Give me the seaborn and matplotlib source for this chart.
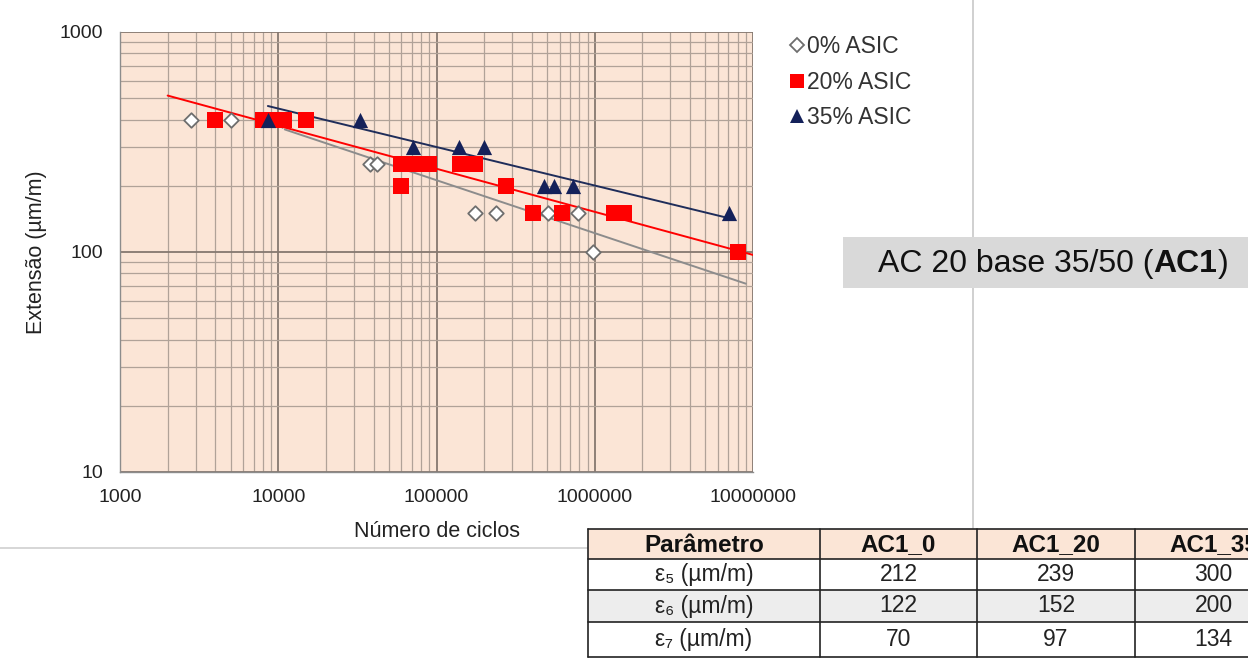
import numpy as np
import pandas as pd
import matplotlib
matplotlib.use("Agg")
import matplotlib.pyplot as plt
from matplotlib.patches import Rectangle
from matplotlib.lines import Line2D
from matplotlib.ticker import FixedLocator, LogLocator, NullFormatter, FixedFormatter
import seaborn as sns

# ---------------- data ----------------
s0_N = [2800, 5000, 10500, 38000, 42000, 176000, 236000, 510000, 780000, 970000]
s0_E = [400, 400, 400, 250, 250, 150, 150, 150, 150, 100]
s20_N = [4000, 8000, 9500, 10800, 15000, 60000, 60000, 75000, 90000, 140000,
         175000, 275000, 410000, 625000, 1320000, 1520000, 8000000]
s20_E = [400, 400, 400, 400, 400, 200, 250, 250, 250, 250,
         250, 200, 150, 150, 150, 150, 100]
s35_N = [8600, 33000, 71000, 138000, 200000, 475000, 550000, 726000, 7050000]
s35_E = [400, 400, 300, 300, 300, 200, 200, 200, 150]

series_labels = ["0% ASIC", "20% ASIC", "35% ASIC"]

# fatigue-law parameters (strain at 1e5, 1e6, 1e7 cycles) from the table
table_cols = ["Parâmetro", "AC1_0", "AC1_20", "AC1_35"]
table_params = ["ε₅ (µm/m)", "ε₆ (µm/m)", "ε₇ (µm/m)"]
eps5 = [212, 239, 300]
eps6 = [122, 152, 200]
eps7 = [70, 97, 134]

# trend-line ranges (cycles)
trend_start = [11000, 2000, 8600]
trend_end = [9000000, 10000000, 7050000]

x_ticks = [1000, 10000, 100000, 1000000, 10000000]
x_ticklabels = ["1000", "10000", "100000", "1000000", "10000000"]
y_ticks = [10, 100, 1000]
y_ticklabels = ["10", "100", "1000"]

# ---------------- style ----------------
sns.set_theme(style="white")
plt.rcParams["font.family"] = ["Liberation Sans", "DejaVu Sans"]

W, H = 1248, 659
fig = plt.figure(figsize=(W / 100, H / 100), dpi=100)
fig.patch.set_facecolor("white")

# background decoration axes (pixel coords)
bg = fig.add_axes([0, 0, 1, 1], zorder=0)
bg.set_xlim(0, W)
bg.set_ylim(H, 0)
bg.axis("off")
bg.add_line(Line2D([0, 590], [548, 548], color="#D0D0D0", lw=1.2))
bg.add_line(Line2D([973, 973], [0, 528], color="#C8C8C8", lw=1.2))

def px_axes(x0, y0, x1, y1):
    return [x0 / W, 1 - y1 / H, (x1 - x0) / W, (y1 - y0) / H]

ax = fig.add_axes(px_axes(120, 32, 753, 472), zorder=2)
ax.set_facecolor("#FBE5D6")
ax.set_xscale("log")
ax.set_yscale("log")
ax.set_xlim(1000, 10000000)
ax.set_ylim(10, 1000)

# grid
ax.xaxis.set_major_locator(FixedLocator(x_ticks))
ax.yaxis.set_major_locator(FixedLocator(y_ticks))
ax.xaxis.set_major_formatter(FixedFormatter(x_ticklabels))
ax.yaxis.set_major_formatter(FixedFormatter(y_ticklabels))
ax.xaxis.set_minor_locator(LogLocator(base=10, subs=np.arange(2, 10)))
ax.yaxis.set_minor_locator(LogLocator(base=10, subs=np.arange(2, 10)))
ax.xaxis.set_minor_formatter(NullFormatter())
ax.yaxis.set_minor_formatter(NullFormatter())
ax.grid(which="major", color="#857870", lw=1.3)
ax.grid(which="minor", color="#B0A298", lw=0.9)
ax.set_axisbelow(True)
for s in ["top", "right"]:
    ax.spines[s].set_visible(False)
for s in ["left", "bottom"]:
    ax.spines[s].set_color("#8C8C8C")
    ax.spines[s].set_linewidth(1.0)
ax.tick_params(which="major", length=6, width=1, color="#8C8C8C",
               labelsize=14, labelcolor="#222222", pad=6)
ax.tick_params(axis="x", which="major", length=0, pad=12)
ax.tick_params(which="minor", length=0)

# trend lines
colors = ["#8C8C8C", "#FF0000", "#1F2D5A"]
for i in range(3):
    n = np.logspace(np.log10(trend_start[i]), np.log10(trend_end[i]), 50)
    b = (np.log10(eps7[i]) - np.log10(eps5[i])) / 2.0
    e = 10 ** (np.log10(eps5[i]) + b * (np.log10(n) - 5))
    sns.lineplot(x=n, y=e, ax=ax, color=colors[i], lw=1.4, zorder=3,
                 legend=False, estimator=None)

# points
sns.scatterplot(x=s0_N, y=s0_E, ax=ax, marker="D", s=55, facecolor="white",
                edgecolor="#6E6E6E", linewidth=1.3, zorder=4, legend=False)
sns.scatterplot(x=s20_N, y=s20_E, ax=ax, marker="s", s=140, color="#FF0000",
                edgecolor="#FF0000", linewidth=0, zorder=5, legend=False)
sns.scatterplot(x=s35_N, y=s35_E, ax=ax, marker="^", s=120, color="#14215A",
                edgecolor="#14215A", linewidth=0, zorder=6, legend=False)

ax.set_xlabel("Número de ciclos", fontsize=15.5, color="#222222")
ax.set_ylabel("Extensão (µm/m)", fontsize=15.5, color="#222222")
ax.xaxis.set_label_coords(0.5, -0.111)
ax.yaxis.set_label_coords(-0.116, 0.5)

leg_handles = [
    Line2D([], [], ls="none", marker="D", ms=7, mfc="white", mec="#6E6E6E", mew=1.3),
    Line2D([], [], ls="none", marker="s", ms=10, mfc="#FF0000", mec="#FF0000", mew=0),
    Line2D([], [], ls="none", marker="^", ms=10, mfc="#14215A", mec="#14215A", mew=0),
]
fig.legend(leg_handles, series_labels, loc="upper left",
           bbox_to_anchor=(790 / W, 1 - 35 / H), frameon=False,
           fontsize=16.5, handlelength=0.6, handletextpad=0.15,
           labelspacing=0.55, borderpad=0, borderaxespad=0,
           labelcolor="#333333")

# ---------------- title box ----------------
ov = fig.add_axes([0, 0, 1, 1], zorder=5)
ov.set_xlim(0, W)
ov.set_ylim(H, 0)
ov.axis("off")
ov.add_patch(Rectangle((843, 237), W - 843, 51, facecolor="#D9D9D9", edgecolor="none"))
t1 = ov.text(878, 264, "AC 20 base 35/50 (", fontsize=23, va="center", ha="left", color="#111111")
t2 = ov.annotate("AC1", xy=(1, 0), xycoords=t1, va="bottom", ha="left",
                 fontsize=23, fontweight="bold", color="#111111")
ov.annotate(")", xy=(1, 0), xycoords=t2, va="bottom", ha="left",
            fontsize=23, color="#111111")

# ---------------- table ----------------
col_x = [588, 820, 977, 1135, 1292]
row_y = [529, 559, 590, 622, 657]
row_fc = ["#FBE5D6", "#FFFFFF", "#EDEDED", "#FFFFFF"]
tfont = ["Liberation Sans", "DejaVu Sans"]
for r in range(4):
    ov.add_patch(Rectangle((col_x[0], row_y[r]), col_x[-1] - col_x[0],
                           row_y[r + 1] - row_y[r], facecolor=row_fc[r],
                           edgecolor="none", zorder=1))
for yv in row_y:
    ov.add_line(Line2D([col_x[0], W], [yv, yv], color="#222222", lw=1.2, zorder=2))
for xv in col_x[:-1]:
    ov.add_line(Line2D([xv, xv], [row_y[0], row_y[-1]], color="#222222", lw=1.2, zorder=2))

cell_vals = [eps5, eps6, eps7]
for c in range(4):
    cx = (col_x[c] + col_x[c + 1]) / 2
    cy = (row_y[0] + row_y[1]) / 2
    ov.text(cx, cy + 1, table_cols[c], ha="center", va="center", fontsize=17.5,
            fontweight="bold", family=tfont, color="#111111", zorder=3)
for r in range(3):
    cy = (row_y[r + 1] + row_y[r + 2]) / 2
    ov.text((col_x[0] + col_x[1]) / 2, cy, table_params[r], ha="center", va="center",
            fontsize=16.5, family=tfont, color="#222222", zorder=3)
    for c in range(3):
        cx = (col_x[c + 1] + col_x[c + 2]) / 2
        ov.text(cx, cy, str(cell_vals[r][c]), ha="center", va="center",
                fontsize=16.5, family=tfont, color="#222222", zorder=3)

fig.savefig("out.png", dpi=100, facecolor="white")
